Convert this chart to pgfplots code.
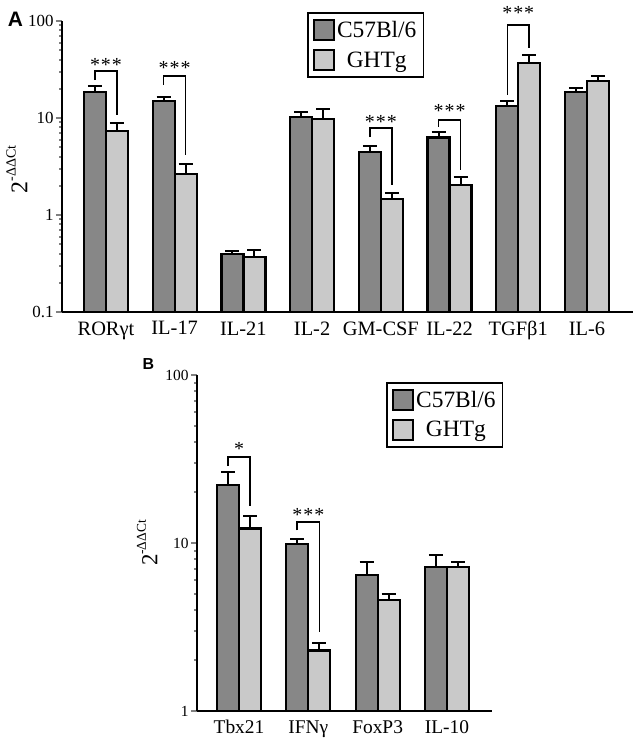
\documentclass[border=0pt]{standalone}
\usepackage{pgfplots}
\pgfplotsset{compat=1.18}
\usepackage{pgfplotstable}
\usepackage{fontspec}
\setmainfont{Liberation Serif}
\newfontfamily\labfont{Liberation Sans}
\definecolor{darkbar}{HTML}{878787}
\definecolor{lightbar}{HTML}{C9C9C9}

\pgfplotstableread{
x  c57   ec57  ghtg  eghtg
0  18.4  3.1   7.4   1.4
1  15.0  1.6   2.63  0.70
2  0.394 0.036 0.366 0.074
3  10.2  1.3   9.7   2.7
4  4.5   0.64  1.45  0.25
5  6.3   0.9   2.04  0.44
6  13.3  1.7   37.2  7.8
7  18.7  1.8   24.2  3.1
}\dataA

\pgfplotstableread{
x  c57   ec57  ghtg  eghtg
0  22.1  4.5   12.2  2.3
1  9.86  0.64  2.29  0.24
2  6.45  1.29  4.58  0.39
3  7.17  1.31  7.17  0.51
}\dataB

\begin{document}
\begin{tikzpicture}
\path[use as bounding box] (0,0) rectangle (636bp,-739bp);

% ---------------- Panel A ----------------
\begin{axis}[
  ymode=log, log origin=infty,
  scale only axis,
  axis x line*=bottom, axis y line*=left,
  axis line style={line width=2bp},
  ybar, bar width=22bp,
  xtick style={draw=none},
  ytick style={line width=2bp},
  major tick length=6bp,
  tick align=outside,
  clip=false,
  legend cell align=center,
  legend image code/.code={\draw[#1, line width=2.2bp] (0bp,-10bp) rectangle (20bp,10bp);},
  at={(62bp,-312bp)}, anchor=south west,
  width=571bp, height=291bp,
  xmin=-0.64, xmax=7.67, ymin=0.1, ymax=100,
  ytick={0.1,1,10,100}, yticklabels={0.1,1,10,100},
  xtick={0,...,7},
  xticklabels={RORγt,IL-17,IL-21,IL-2,GM-CSF,IL-22,TGFβ1,IL-6},
  xticklabel style={font=\fontsize{20.5}{20.5}\selectfont},
  yticklabel style={font=\fontsize{17}{17}\selectfont, xshift=1bp},
  ylabel={2\raisebox{0.5em}{\fontsize{14}{14}\selectfont -ΔΔCt}},
  ylabel style={font=\fontsize{24}{24}\selectfont, at={(axis description cs:-0.079,0.49)}, anchor=center},
  legend style={at={(axis description cs:0.429,1.031)}, anchor=north west,
    draw=black, line width=1.8bp, font=\fontsize{23.5}{24}\selectfont,
    inner xsep=5bp, inner ysep=6bp, row sep=8bp},
]
\addplot[fill=darkbar, draw=black, line width=2.2bp, bar shift=-11bp,
    error bars/.cd, y dir=plus, y explicit, error mark=-,
    error bar style={line width=2bp, black},
    error mark options={line width=2bp, black, mark size=7bp, rotate=90}]
  table[x=x, y=c57, y error plus=ec57] {\dataA};
\addlegendentry{C57Bl/6}
\addplot[fill=lightbar, draw=black, line width=2.2bp, bar shift=11bp,
    error bars/.cd, y dir=plus, y explicit, error mark=-,
    error bar style={line width=2bp, black},
    error mark options={line width=2bp, black, mark size=7bp, rotate=90}]
  table[x=x, y=ghtg, y error plus=eghtg] {\dataA};
\addlegendentry{GHTg}

% significance brackets
\draw[line width=1.5bp] (axis cs:-0.16,24.6) -- (axis cs:-0.16,30.5) -- (axis cs:0.16,30.5) -- (axis cs:0.16,10.7);
\node[anchor=base, yshift=-10bp, font=\fontsize{20}{20}\selectfont] at (axis cs:0,38.7) {*\kern1bp*\kern1bp*};
\draw[line width=1.5bp] (axis cs:0.84,21.9) -- (axis cs:0.84,27.1) -- (axis cs:1.16,27.1) -- (axis cs:1.16,4.16);
\node[anchor=base, yshift=-10bp, font=\fontsize{20}{20}\selectfont] at (axis cs:1,35.2) {*\kern1bp*\kern1bp*};
\draw[line width=1.5bp] (axis cs:3.84,6.37) -- (axis cs:3.84,7.88) -- (axis cs:4.16,7.88) -- (axis cs:4.16,2.04);
\node[anchor=base, yshift=-10bp, font=\fontsize{20}{20}\selectfont] at (axis cs:4,10.0) {*\kern1bp*\kern1bp*};
\draw[line width=1.5bp] (axis cs:4.84,8.08) -- (axis cs:4.84,9.53) -- (axis cs:5.16,9.53) -- (axis cs:5.16,2.91);
\node[anchor=base, yshift=-10bp, font=\fontsize{20}{20}\selectfont] at (axis cs:5,12.7) {*\kern1bp*\kern1bp*};
\draw[line width=1.5bp] (axis cs:5.84,17.3) -- (axis cs:5.84,91) -- (axis cs:6.16,91) -- (axis cs:6.16,52.7);
\node[anchor=base, yshift=-10bp, font=\fontsize{20}{20}\selectfont] at (axis cs:6,130) {*\kern1bp*\kern1bp*};
\end{axis}

% ---------------- Panel B ----------------
\begin{axis}[
  ymode=log, log origin=infty,
  scale only axis,
  axis x line*=bottom, axis y line*=left,
  axis line style={line width=2bp},
  ybar, bar width=22bp,
  xtick style={draw=none},
  ytick style={line width=2bp},
  major tick length=6bp,
  tick align=outside,
  clip=false,
  legend cell align=center,
  legend image code/.code={\draw[#1, line width=2.2bp] (0bp,-10bp) rectangle (20bp,10bp);},
  at={(197bp,-711bp)}, anchor=south west,
  width=295bp, height=336bp,
  xmin=-0.606, xmax=3.65, ymin=1, ymax=100,
  ytick={1,10,100}, yticklabels={1,10,100},
  xtick={0,...,3},
  xticklabels={Tbx21,IFNγ,FoxP3,IL-10},
  xticklabel style={font=\fontsize{19.5}{19.5}\selectfont},
  yticklabel style={font=\fontsize{15.5}{15.5}\selectfont, xshift=1bp},
  ylabel={2\raisebox{0.5em}{\fontsize{13.5}{13.5}\selectfont -ΔΔCt}},
  ylabel style={font=\fontsize{23}{23}\selectfont, at={(axis description cs:-0.169,0.5)}, anchor=center},
  legend style={at={(axis description cs:0.641,0.980)}, anchor=north west,
    draw=black, line width=1.8bp, font=\fontsize{23.5}{24}\selectfont,
    inner xsep=5bp, inner ysep=6bp, row sep=8bp},
]
\addplot[fill=darkbar, draw=black, line width=2.2bp, bar shift=-11bp,
    error bars/.cd, y dir=plus, y explicit, error mark=-,
    error bar style={line width=2bp, black},
    error mark options={line width=2bp, black, mark size=7bp, rotate=90}]
  table[x=x, y=c57, y error plus=ec57] {\dataB};
\addlegendentry{C57Bl/6}
\addplot[fill=lightbar, draw=black, line width=2.2bp, bar shift=11bp,
    error bars/.cd, y dir=plus, y explicit, error mark=-,
    error bar style={line width=2bp, black},
    error mark options={line width=2bp, black, mark size=7bp, rotate=90}]
  table[x=x, y=ghtg, y error plus=eghtg] {\dataB};
\addlegendentry{GHTg}

\draw[line width=1.5bp] (axis cs:-0.16,28.7) -- (axis cs:-0.16,32.4) -- (axis cs:0.16,32.4) -- (axis cs:0.16,16.7);
\node[anchor=base, yshift=-10bp, font=\fontsize{20}{20}\selectfont] at (axis cs:0,37.8) {*};
\draw[line width=1.5bp] (axis cs:0.84,11.9) -- (axis cs:0.84,13.3) -- (axis cs:1.16,13.3) -- (axis cs:1.16,2.97);
\node[anchor=base, yshift=-10bp, font=\fontsize{20}{20}\selectfont] at (axis cs:1,15.4) {*\kern1bp*\kern1bp*};
\end{axis}

\node[font=\labfont\bfseries\fontsize{21}{21}\selectfont] at (15.5bp,-19.5bp) {A};
\node[font=\labfont\bfseries\fontsize{16}{16}\selectfont] at (148.5bp,-364.5bp) {B};
\end{tikzpicture}
\end{document}
